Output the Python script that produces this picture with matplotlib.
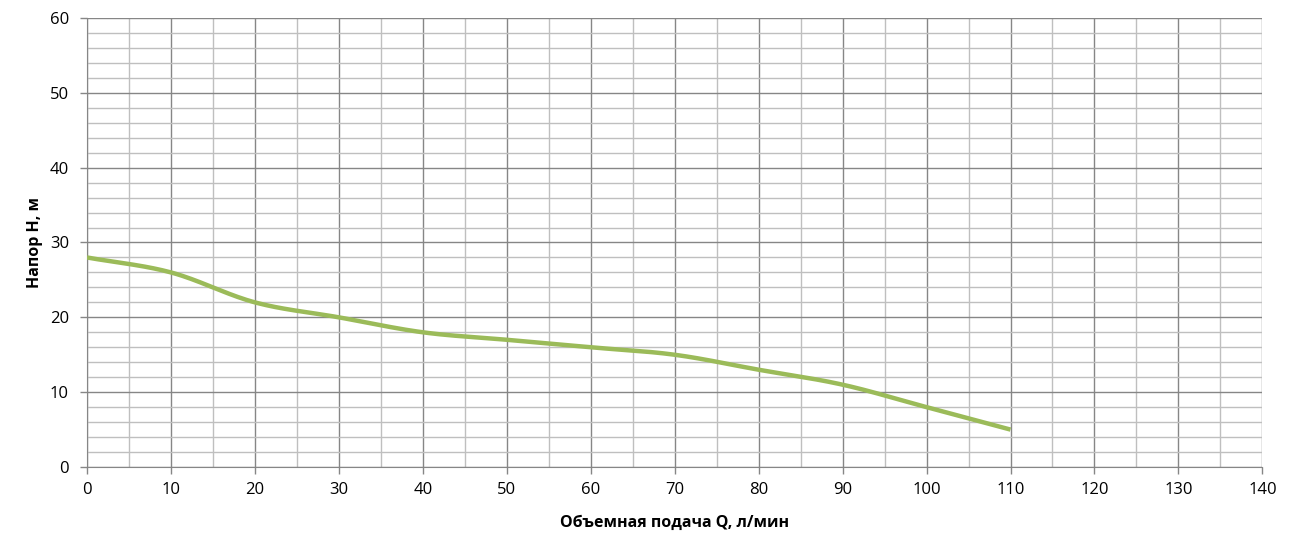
import numpy as np
import matplotlib
matplotlib.use('Agg')
from matplotlib import pyplot as plt
from matplotlib.ticker import MultipleLocator

flow = [0, 10, 20, 30, 40, 50, 60, 70, 80, 90, 100, 110]
head = [28, 26, 22, 20, 18, 17, 16, 15, 13, 11, 8, 5]

x_ticks = list(range(0, 141, 10))
y_ticks = list(range(0, 61, 10))


def smooth(xs, ys, n=30):
    # catmull-rom, close to excel's "smoothed line"
    xs = np.asarray(xs, float)
    ys = np.asarray(ys, float)
    px = np.concatenate([[2 * xs[0] - xs[1]], xs, [2 * xs[-1] - xs[-2]]])
    py = np.concatenate([[2 * ys[0] - ys[1]], ys, [2 * ys[-1] - ys[-2]]])
    out_x, out_y = [], []
    t = np.linspace(0, 1, n)
    for i in range(1, len(px) - 2):
        for p, out in ((px, out_x), (py, out_y)):
            p0, p1, p2, p3 = p[i - 1], p[i], p[i + 1], p[i + 2]
            seg = 0.5 * (2 * p1 + (-p0 + p2) * t + (2 * p0 - 5 * p1 + 4 * p2 - p3) * t ** 2
                         + (-p0 + 3 * p1 - 3 * p2 + p3) * t ** 3)
            out.extend(seg)
    return out_x, out_y


plt.rcParams['font.family'] = ['Open Sans', 'DejaVu Sans']

fig = plt.figure(figsize=(13.06, 5.53), dpi=100)
ax = fig.add_axes([0.0666, 0.1555, 0.9, 0.812])

sx, sy = smooth(flow, head)
ax.plot(sx, sy, color='#9bbb59', linewidth=3.2, solid_capstyle='butt', zorder=3)

ax.set_xlim(0, 140)
ax.set_ylim(0, 60)
ax.set_xticks(x_ticks)
ax.set_yticks(y_ticks)
ax.xaxis.set_minor_locator(MultipleLocator(5))
ax.yaxis.set_minor_locator(MultipleLocator(2))
ax.grid(which='major', color='#868686', linewidth=1)
ax.grid(which='minor', color='#bfbfbf', linewidth=1)
ax.set_axisbelow(True)

ax.tick_params(which='major', length=5, width=1, color='#868686', labelsize=12)
ax.tick_params(axis='y', pad=8)
ax.tick_params(axis='x', pad=6)
ax.tick_params(which='minor', length=0)
for side in ['top', 'right']:
    ax.spines[side].set_visible(False)
for side in ['left', 'bottom']:
    ax.spines[side].set_color('#868686')

ax.set_xlabel('Объемная подача Q, л/мин', fontsize=11.5, fontweight='bold', labelpad=12)
ax.set_ylabel('Напор H, м', fontsize=11.5, fontweight='bold', labelpad=5)

fig.savefig('out.png', dpi=100)
